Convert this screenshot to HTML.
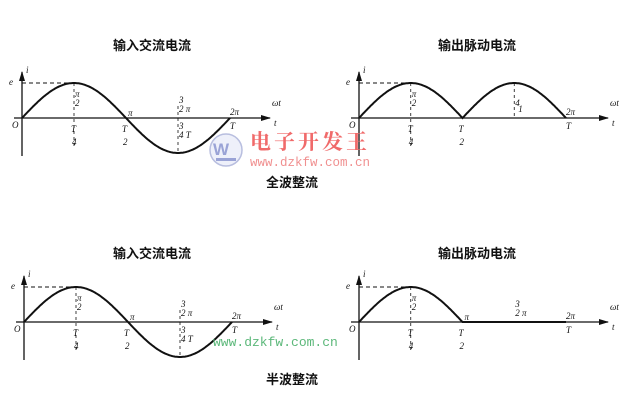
<!DOCTYPE html>
<html><head><meta charset="utf-8"><style>
html,body{margin:0;padding:0;background:#fff;}
svg{display:block;}
text{font-family:"Liberation Serif","Noto Serif CJK SC",serif;}
.t{font-family:"Liberation Sans","Noto Sans CJK SC",sans-serif;font-weight:bold;font-size:13px;fill:#111;}
.s{font-size:9px;font-style:italic;fill:#111;}
</style></head><body>
<svg id="sv" width="627" height="414" viewBox="0 0 627 414" xmlns="http://www.w3.org/2000/svg">
<defs><marker id="ar" markerWidth="10" markerHeight="6" refX="9" refY="3" orient="auto" markerUnits="userSpaceOnUse"><path d="M0,0 L10,3 L0,6 z" fill="#111"/></marker></defs>
<text class="t" x="113" y="50">输入交流电流</text>
<text class="t" x="438" y="50">输出脉动电流</text>
<text class="t" x="113" y="258">输入交流电流</text>
<text class="t" x="438" y="258">输出脉动电流</text>
<text class="t" x="266" y="187">全波整流</text>
<text class="t" x="266" y="384">半波整流</text>
<g id="g"></g>
<circle cx="226" cy="150" r="16" fill="#eef0fa" stroke="#b8bedf" stroke-width="1.5"/>
<text x="213" y="155" style="font-family:'Liberation Sans',sans-serif;font-size:17px;font-weight:bold;fill:#9aa3d6">W</text>
<rect x="216" y="158" width="20" height="3" fill="#9aa3d6"/>
<text x="250" y="149" style="font-family:'Noto Serif CJK SC',serif;font-size:21px;fill:#f06a6a;font-weight:bold;letter-spacing:3px">电子开发王</text>
<text x="250" y="166" style="font-family:'Liberation Mono',monospace;font-size:12.5px;fill:#f09090">www.dzkfw.com.cn</text>
<text x="213" y="346" style="font-family:'Liberation Mono',monospace;font-size:13px;fill:#5cb87a">www.dzkfw.com.cn</text>
</svg>
<script>
var g=document.getElementById('g'),N='http://www.w3.org/2000/svg';
function el(t,a){var e=document.createElementNS(N,t);for(var k in a)e.setAttribute(k,a[k]);g.appendChild(e);return e;}
function tx(x,y,s,c){var e=el('text',{x:x,y:y,'class':c||'s'});e.textContent=s;}
function graph(ox,oy,per,A,mode,axEnd){
 el('line',{x1:ox-8,y1:oy,x2:axEnd,y2:oy,stroke:'#111','stroke-width':1.3,'marker-end':'url(#ar)'});
 el('line',{x1:ox,y1:oy+38,x2:ox,y2:oy-46,stroke:'#111','stroke-width':1.3,'marker-end':'url(#ar)'});
 var d='';for(var i=0;i<=200;i++){var x=i/200*per,v=Math.sin(2*Math.PI*i/200);
  if(mode==1)v=Math.abs(v);if(mode==2)v=Math.max(0,v);
  d+=(i?'L':'M')+(ox+x).toFixed(1)+','+(oy-A*v).toFixed(1);}
 el('path',{d:d,fill:'none',stroke:'#111','stroke-width':2});
 var q=per/4;
 el('line',{x1:ox,y1:oy-A,x2:ox+q,y2:oy-A,stroke:'#111','stroke-dasharray':'4,3'});
 el('line',{x1:ox+q,y1:oy-A,x2:ox+q,y2:oy+30,stroke:'#111','stroke-dasharray':'3,3','stroke-width':0.8});
 if(mode==0)el('line',{x1:ox+3*q,y1:oy-12,x2:ox+3*q,y2:oy+A,stroke:'#111','stroke-dasharray':'3,3','stroke-width':0.8});
 if(mode==1)el('line',{x1:ox+3*q,y1:oy-A,x2:ox+3*q,y2:oy,stroke:'#111','stroke-dasharray':'3,3','stroke-width':0.8});
 tx(ox-13,oy-A+2,'e');tx(ox+4,oy-A-10,'i');tx(ox-10,oy+10,'O','s');
 tx(ox+q+1,oy-21,'π');tx(ox+q+1,oy-12,'2');
 tx(ox+q-3,oy+14,'T');tx(ox+q-2,oy+27,'4');
 tx(ox+2*q-4,oy+14,'T');tx(ox+2*q-3,oy+27,'2');
 if(mode!=1)tx(ox+2*q+2,oy-2,'π');
 if(mode!=1){tx(ox+3*q+1,oy-15,'3');tx(ox+3*q+1,oy-6,'2 π');}
 if(mode==0){tx(ox+3*q+1,oy+11,'3');tx(ox+3*q+1,oy+20,'4 T');}
 if(mode==1){tx(ox+3*q+1,oy-12,'4');tx(ox+3*q+4,oy-6,'1');}
 tx(ox+per,oy-3,'2π');tx(ox+per,oy+11,'T');
 tx(axEnd+2,oy-12,'ωt');tx(axEnd+4,oy+8,'t');
}
graph(22,118,208,35,0,270);
graph(359,118,207,35,1,608);
graph(24,322,208,35,0,272);
graph(359,322,207,35,2,608);
</script>
</body></html>
